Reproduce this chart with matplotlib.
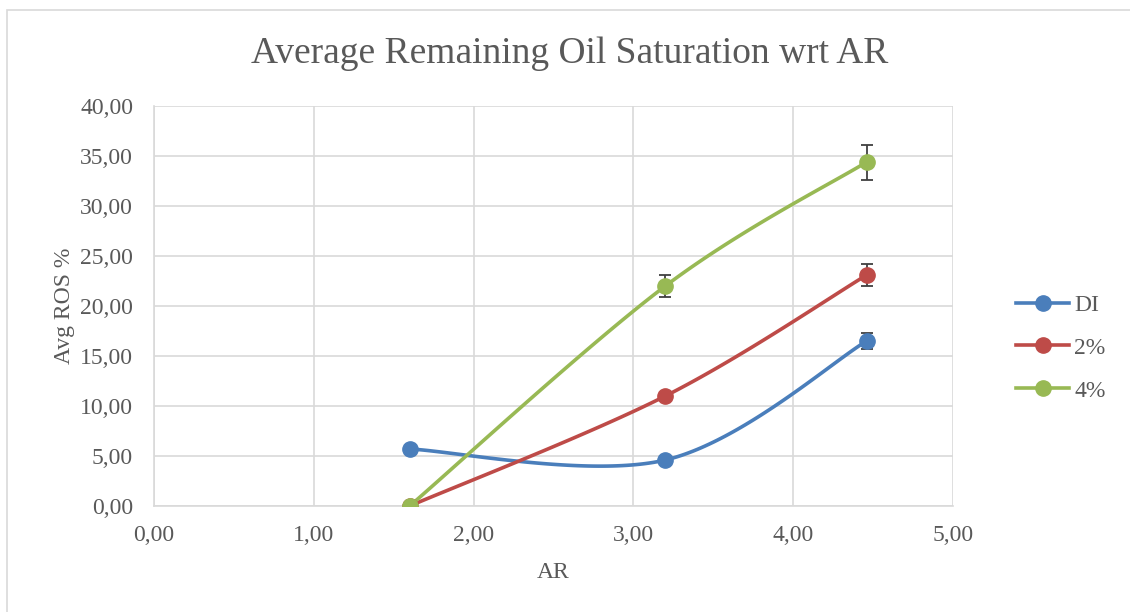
import numpy as np
import matplotlib.pyplot as plt
from matplotlib.patches import Rectangle
from matplotlib.lines import Line2D
from matplotlib.ticker import FuncFormatter

# Aspect ratio values and average remaining oil saturation per brine
ar = [1.60, 3.20, 4.46]
series_names = ["DI", "2%", "4%"]
ros_di = [5.7, 4.6, 16.5]
ros_2 = [0.0, 11.0, 23.1]
ros_4 = [0.0, 22.0, 34.4]
err_di = [0.0, 0.2, 0.8]
err_2 = [0.0, 0.2, 1.1]
err_4 = [0.0, 1.1, 1.75]

colors = ["#4a7ebb", "#be4b48", "#98b954"]
text_color = "#595959"
grid_color = "#d9d9d9"

plt.rcParams['font.family'] = ['Liberation Serif', 'DejaVu Serif']


def smooth_curve(x, y, n=60):
    """Bezier smoothing through the points, with end points repeated."""
    pts = np.column_stack([x, y]).astype(float)
    padded = np.vstack([pts[0], pts, pts[-1]])
    out = []
    for i in range(1, len(padded) - 2):
        p0, p1, p2, p3 = padded[i - 1], padded[i], padded[i + 1], padded[i + 2]
        c1 = p1 + (p2 - p0) / 6.0
        c2 = p2 - (p3 - p1) / 6.0
        t = np.linspace(0, 1, n)[:, None]
        seg = ((1 - t) ** 3) * p1 + 3 * ((1 - t) ** 2) * t * c1 \
            + 3 * (1 - t) * t ** 2 * c2 + t ** 3 * p2
        out.append(seg if i == 1 else seg[1:])
    curve = np.vstack(out)
    return curve[:, 0], curve[:, 1]


fig = plt.figure(figsize=(11.3, 6.12), dpi=100)
ax = fig.add_axes([154 / 1130, 1 - 506 / 612, (953 - 154) / 1130, (506 - 106) / 612])

# outer chart border (only its top and left edges fall inside the canvas)
fig.patches.append(Rectangle((7 / 1130, -0.5), 2.0, 1.5 - 10 / 612, transform=fig.transFigure,
                             fill=False, edgecolor="#d9d9d9", linewidth=1.2, zorder=0))

for vals, errs, col, name in zip([ros_di, ros_2, ros_4], [err_di, err_2, err_4],
                                 colors, series_names):
    sx, sy = smooth_curve(ar, vals)
    ax.plot(sx, sy, color=col, linewidth=2.6, zorder=3, solid_capstyle='round')
    ax.errorbar(ar, vals, yerr=errs, fmt='none', ecolor="#404040", elinewidth=1.3,
                capsize=4, capthick=1.3, zorder=2)
    ax.plot(ar, vals, 'o', color=col, markersize=11, zorder=4)

ax.set_xlim(0, 5)
ax.set_ylim(0, 40)
ax.set_xticks(np.arange(0, 5.01, 1))
ax.set_yticks(np.arange(0, 40.01, 5))
fmt = FuncFormatter(lambda v, p: f"{v:.2f}".replace(".", ","))
ax.xaxis.set_major_formatter(fmt)
ax.yaxis.set_major_formatter(fmt)
ax.grid(True, color=grid_color, linewidth=1.2, zorder=0)
ax.set_axisbelow(True)
for side in ["top", "right"]:
    ax.spines[side].set_visible(False)
for side in ["left", "bottom"]:
    ax.spines[side].set_color(grid_color)
    ax.spines[side].set_linewidth(1.2)
ax.tick_params(length=0, labelsize=17, labelcolor=text_color)
ax.tick_params(axis='x', pad=14)
ax.tick_params(axis='y', pad=15)

ax.set_xlabel("AR", fontsize=17, color=text_color, labelpad=11)
ax.set_ylabel("Avg ROS %", fontsize=17, color=text_color, labelpad=4)
fig.text(570 / 1130, 1 - 54 / 612, "Average Remaining Oil Saturation wrt AR",
         ha="center", va="center", fontsize=27, color=text_color)

handles = [Line2D([0], [0], color=c, linewidth=2.6, marker='o', markersize=11)
           for c in colors]
leg = fig.legend(handles, series_names, loc="center left",
                 bbox_to_anchor=(995 / 1130, 1 - 348 / 612), frameon=False,
                 fontsize=17, handlelength=2.25, labelspacing=0.9, handletextpad=0.2)
for t in leg.get_texts():
    t.set_color(text_color)

fig.savefig("out.png", dpi=100)
